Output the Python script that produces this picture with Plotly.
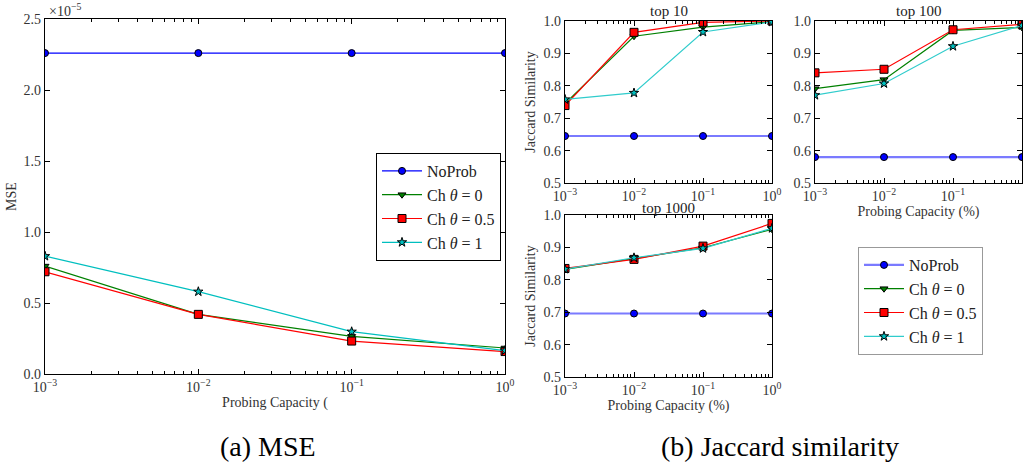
import plotly.graph_objects as go

# ---------------- data ----------------
capacity = [1e-3, 1e-2, 1e-1, 1.0]          # probing capacity (%)
cap_ticktext = ["10<sup>−3</sup>", "10<sup>−2</sup>", "10<sup>−1</sup>", "10<sup>0</sup>"]
series = ["NoProb", "Ch <i>θ</i> = 0", "Ch <i>θ</i> = 0.5", "Ch <i>θ</i> = 1"]

# MSE, in units of 1e-5
mse_noprob = [2.26, 2.26, 2.26, 2.26]
mse_ch0 = [0.76, 0.42, 0.265, 0.183]
mse_ch05 = [0.72, 0.42, 0.232, 0.158]
mse_ch1 = [0.83, 0.58, 0.298, 0.165]

# Jaccard similarity
top10_noprob = [0.645, 0.645, 0.645, 0.645]
top10_ch0 = [0.745, 0.953, 0.981, 0.998]
top10_ch05 = [0.739, 0.965, 0.996, 1.0]
top10_ch1 = [0.758, 0.778, 0.966, 0.997]

top100_noprob = [0.58, 0.58, 0.58, 0.58]
top100_ch0 = [0.791, 0.819, 0.971, 0.980]
top100_ch05 = [0.840, 0.851, 0.973, 0.990]
top100_ch1 = [0.771, 0.807, 0.922, 0.986]

top1000_noprob = [0.696, 0.696, 0.696, 0.696]
top1000_ch0 = [0.832, 0.866, 0.899, 0.956]
top1000_ch05 = [0.835, 0.863, 0.904, 0.974]
top1000_ch1 = [0.833, 0.868, 0.897, 0.959]

jac_ticks = [0.5, 0.6, 0.7, 0.8, 0.9, 1.0]
mse_ticks = [0.0, 0.5, 1.0, 1.5, 2.0, 2.5]

# ---------------- styles ----------------
line_colors = ["#0000ff", "#008000", "#ff0000", "#00bfbf"]
line_colors_jac = ["#7a7aff", "#008000", "#ff0000", "#30cccc"]
line_widths = [1.2, 1.2, 1.2, 1.2]
line_widths_jac = [2.2, 1.2, 1.2, 1.2]
marker_colors = ["#0000ff", "#008000", "#ff0000", "#00bfbf"]
symbols = ["circle", "triangle-down", "square", "star"]
msizes = [7, 7, 8, 7]
FONT = "Liberation Serif"
TXT = "#333333"

fig = go.Figure()

minor_vals = [m * 10 ** e for e in (-3, -2, -1) for m in range(2, 10)]


def add_series(xa, ya, ys, colors, widths, legend, show):
    for i, y in enumerate(ys):
        fig.add_trace(go.Scatter(
            x=capacity, y=y, mode="lines+markers", name=series[i],
            xaxis=xa, yaxis=ya, legend=legend, showlegend=show,
            line=dict(color=colors[i], width=widths[i]),
            marker=dict(symbol=symbols[i], size=msizes[i], color=marker_colors[i],
                        line=dict(color="black", width=1)),
        ))


add_series("x", "y", [mse_noprob, mse_ch0, mse_ch05, mse_ch1], line_colors, line_widths, "legend", True)
add_series("x2", "y2", [top10_noprob, top10_ch0, top10_ch05, top10_ch1], line_colors_jac, line_widths_jac, "legend2", False)
add_series("x3", "y3", [top100_noprob, top100_ch0, top100_ch05, top100_ch1], line_colors_jac, line_widths_jac, "legend2", False)
add_series("x4", "y4", [top1000_noprob, top1000_ch0, top1000_ch05, top1000_ch1], line_colors_jac, line_widths_jac, "legend2", True)

W, H = 1029, 466


def dom_x(a, b):
    return [a / W, b / W]


def dom_y(top, bottom):
    return [1 - bottom / H, 1 - top / H]


tickfont = dict(family=FONT, size=14, color=TXT)
common_x = dict(type="log", range=[-3, 0], tickmode="array", tickvals=capacity, ticktext=cap_ticktext,
                ticks="inside", ticklen=5, tickcolor="black", showline=True, linecolor="black",
                linewidth=1.2, mirror="ticks", showgrid=False, zeroline=False, tickfont=tickfont,
                automargin=False,
                minor=dict(tickmode="array", tickvals=minor_vals, ticks="inside", ticklen=2.5,
                           tickcolor="black", showgrid=False))
common_y = dict(ticks="inside", ticklen=5, tickcolor="black", showline=True, linecolor="black",
                linewidth=1.2, mirror="ticks", showgrid=False, zeroline=False, tickfont=tickfont,
                automargin=False)

xt = lambda t: dict(text=t, font=dict(family=FONT, size=14, color=TXT), standoff=3)
yt = lambda t, s: dict(text=t, font=dict(family=FONT, size=14, color=TXT), standoff=s)

fig.update_layout(
    width=W, height=H, margin=dict(l=0, r=0, t=0, b=0, autoexpand=False),
    paper_bgcolor="white", plot_bgcolor="white",
    font=dict(family=FONT, color="black"),
    xaxis=dict(common_x, domain=dom_x(45, 505), anchor="y", title=xt("Probing Capacity (")),
    yaxis=dict(common_y, domain=dom_y(19, 374), anchor="x", range=[0, 2.5], tickmode="array",
               tickvals=mse_ticks, ticktext=[f"{v:.1f}" for v in mse_ticks], title=yt("MSE", 3)),
    xaxis2=dict(common_x, domain=dom_x(565, 772), anchor="y2"),
    yaxis2=dict(common_y, domain=dom_y(21, 183), anchor="x2", range=[0.5, 1.0], tickmode="array",
                tickvals=jac_ticks, ticktext=[f"{v:.1f}" for v in jac_ticks],
                title=yt("Jaccard Similarity", 4)),
    xaxis3=dict(common_x, domain=dom_x(815, 1022), anchor="y3", title=xt("Probing Capacity (%)")),
    yaxis3=dict(common_y, domain=dom_y(21, 183), anchor="x3", range=[0.5, 1.0], tickmode="array",
                tickvals=jac_ticks, ticktext=[f"{v:.1f}" for v in jac_ticks]),
    xaxis4=dict(common_x, domain=dom_x(565, 772), anchor="y4", title=xt("Probing Capacity (%)")),
    yaxis4=dict(common_y, domain=dom_y(215, 377), anchor="x4", range=[0.5, 1.0], tickmode="array",
                tickvals=jac_ticks, ticktext=[f"{v:.1f}" for v in jac_ticks],
                title=yt("Jaccard Similarity", 4)),
    legend=dict(x=376 / W, y=1 - 153 / H, xanchor="left", yanchor="top", bgcolor="white",
                bordercolor="black", borderwidth=1, font=dict(family=FONT, size=16, color="#222222"),
                tracegroupgap=0, itemwidth=40),
    legend2=dict(x=858 / W, y=1 - 247 / H, xanchor="left", yanchor="top", bgcolor="white",
                 bordercolor="#999999", borderwidth=1, font=dict(family=FONT, size=16, color="#222222"),
                 tracegroupgap=0, itemwidth=40),
)

annos = [
    dict(text="×10<sup>−5</sup>", x=47 / W, y=1 - 10 / H, xanchor="left", yanchor="middle",
         font=dict(family=FONT, size=14, color=TXT)),
    dict(text="top 10", x=(565 + 772) / 2 / W, y=1 - 11 / H, xanchor="center", yanchor="middle",
         font=dict(family=FONT, size=15, color="#222222")),
    dict(text="top 100", x=(815 + 1022) / 2 / W, y=1 - 11 / H, xanchor="center", yanchor="middle",
         font=dict(family=FONT, size=15, color="#222222")),
    dict(text="top 1000", x=(565 + 772) / 2 / W, y=1 - 207.5 / H, xanchor="center", yanchor="middle",
         font=dict(family=FONT, size=15, color="#222222")),
    dict(text="(a) MSE", x=268 / W, y=1 - 446 / H, xanchor="center", yanchor="middle",
         font=dict(family=FONT, size=28, color="black")),
    dict(text="(b) Jaccard similarity", x=780 / W, y=1 - 446 / H, xanchor="center", yanchor="middle",
         font=dict(family=FONT, size=28, color="black")),
]
for a in annos:
    fig.add_annotation(xref="paper", yref="paper", showarrow=False, **a)

fig.write_html("out.html", config={"displayModeBar": False},
               post_script="document.body.style.margin='0';")
